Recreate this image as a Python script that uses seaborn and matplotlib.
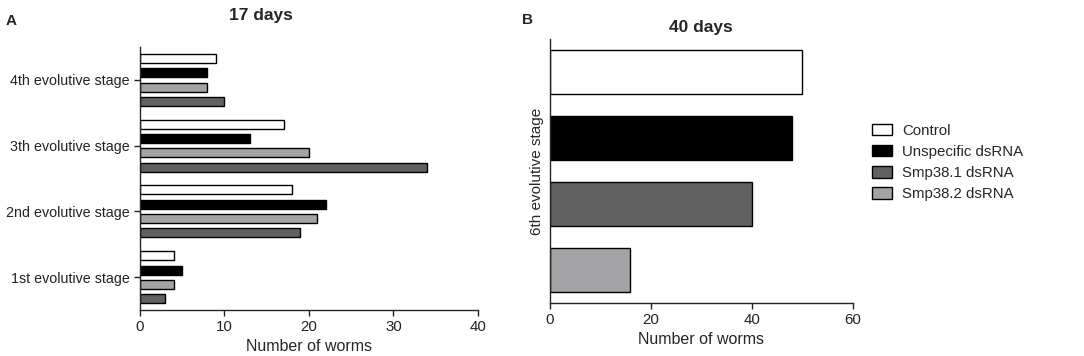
import pandas as pd
import matplotlib.pyplot as plt
import seaborn as sns
from matplotlib.patches import Patch

sns.set_theme(style="ticks")
plt.rcParams['font.family'] = ['Liberation Sans', 'DejaVu Sans']
plt.rcParams.update({'font.size': 10, 'axes.linewidth': 1.0})

# ---- data ----
stages_17 = ["4th evolutive stage", "3th evolutive stage",
             "2nd evolutive stage", "1st evolutive stage"]
control_17 = [9, 17, 18, 4]
unspecific_17 = [8, 13, 22, 5]
smp382_17 = [8, 20, 21, 4]
smp381_17 = [10, 34, 19, 3]

stage_40 = ["6th evolutive stage"]
control_40 = [50]
unspecific_40 = [48]
smp381_40 = [40]
smp382_40 = [16]

groups = ["Control", "Unspecific dsRNA", "Smp38.1 dsRNA", "Smp38.2 dsRNA"]
colors = {"Control": "#ffffff", "Unspecific dsRNA": "#000000",
          "Smp38.1 dsRNA": "#616161", "Smp38.2 dsRNA": "#a3a3a6"}


def long_form(stages, series):
    rows = []
    for name, vals in series.items():
        for st, v in zip(stages, vals):
            rows.append({"stage": st, "group": name, "worms": v})
    return pd.DataFrame(rows)


df17 = long_form(stages_17, {"Control": control_17, "Unspecific dsRNA": unspecific_17,
                             "Smp38.2 dsRNA": smp382_17, "Smp38.1 dsRNA": smp381_17})
df40 = long_form(stage_40, {"Control": control_40, "Unspecific dsRNA": unspecific_40,
                            "Smp38.1 dsRNA": smp381_40, "Smp38.2 dsRNA": smp382_40})

fig = plt.figure(figsize=(10.84, 3.56), dpi=100)
ax_a = fig.add_axes([0.129, 0.129, 0.312, 0.739])
ax_b = fig.add_axes([0.507, 0.149, 0.2795, 0.742])

# ---- panel A: 17 days ----
sns.barplot(data=df17, y="stage", x="worms", hue="group", order=stages_17,
            hue_order=["Control", "Unspecific dsRNA", "Smp38.2 dsRNA", "Smp38.1 dsRNA"],
            palette=colors, saturation=1, edgecolor="black", linewidth=1,
            width=0.87, gap=0.37, errorbar=None, legend=False, ax=ax_a)
ax_a.set_xlim(0, 40)
ax_a.set_xticks([0, 10, 20, 30, 40])
ax_a.set_xlabel("Number of worms", fontsize=11.5, labelpad=3)
ax_a.set_ylabel("")
ax_a.tick_params(axis="y", labelsize=10.3)
ax_a.text(0.358, 1.12, "17 days", transform=ax_a.transAxes, ha="center",
          va="center", fontsize=12.5, fontweight="bold")

# ---- panel B: 40 days ----
sns.barplot(data=df40, y="stage", x="worms", hue="group", order=stage_40,
            hue_order=groups, palette=colors, saturation=1, edgecolor="black",
            linewidth=1, width=1.0, gap=0.33, errorbar=None, legend=False, ax=ax_b)
ax_b.set_xlim(0, 60)
ax_b.set_xticks([0, 20, 40, 60])
ax_b.set_yticks([])
ax_b.set_xlabel("Number of worms", fontsize=11.5, labelpad=3)
ax_b.set_ylabel("6th evolutive stage", fontsize=11)
ax_b.set_title("40 days", fontsize=12.5, fontweight="bold", pad=5)

for ax in (ax_a, ax_b):
    sns.despine(ax=ax)
    ax.tick_params(axis="both", length=4, width=1, colors="#222222",
                   labelcolor="#222222")
    ax.tick_params(axis="x", labelsize=10.8)

handles = [Patch(facecolor=colors[g], edgecolor="black", linewidth=1, label=g) for g in groups]
ax_b.legend(handles=handles, loc="upper left", bbox_to_anchor=(1.02, 0.73),
            frameon=False, fontsize=10.8, handlelength=1.3, handleheight=0.8,
            labelspacing=0.48, handletextpad=0.7)

fig.text(0.005, 0.94, "A", fontsize=11, fontweight="bold", va="center")
fig.text(0.482, 0.945, "B", fontsize=11, fontweight="bold", va="center")

fig.savefig("out.png", dpi=100)
